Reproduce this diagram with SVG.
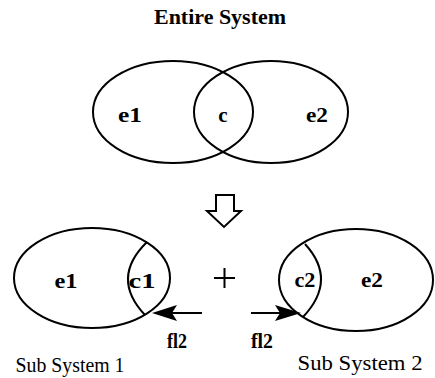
<svg xmlns="http://www.w3.org/2000/svg" width="435" height="378" viewBox="0 0 435 378">
<style>
.l{fill:none;stroke:#000;stroke-width:2}
.t{font-family:"Liberation Serif","Times New Roman",serif;fill:#000;font-size:21px}
.b{font-weight:bold}
.h{fill:#000;stroke:none}
</style>
<rect width="435" height="378" fill="#fff"/>
<text class="t b" x="220" y="24" text-anchor="middle" textLength="132" lengthAdjust="spacingAndGlyphs" font-size="19">Entire System</text>
<g id="entire">
<ellipse class="l" cx="173" cy="112" rx="80" ry="51"/>
<ellipse class="l" cx="271" cy="112" rx="77" ry="51"/>
<text class="t b" x="130" y="122" text-anchor="middle" textLength="24" lengthAdjust="spacingAndGlyphs">e1</text>
<text class="t b" x="223" y="122" text-anchor="middle">c</text>
<text class="t b" x="317" y="122" text-anchor="middle" textLength="22" lengthAdjust="spacingAndGlyphs">e2</text>
</g>
<g id="down-arrow">
<path class="l" d="M216,195 H234 V211 H241 L224,227 L207,211 H216 Z" stroke-width="1.6" stroke-linejoin="miter"/>
</g>
<g id="sub1">
<ellipse class="l" cx="92" cy="278" rx="78" ry="50"/>
<path class="l" d="M147,242 Q110,278 145,315"/>
<text class="t b" x="66" y="288" text-anchor="middle" textLength="23" lengthAdjust="spacingAndGlyphs">e1</text>
<text class="t b" x="142" y="288" text-anchor="middle" textLength="27" lengthAdjust="spacingAndGlyphs">c1</text>
<text class="t" x="70" y="372" text-anchor="middle" textLength="109" lengthAdjust="spacingAndGlyphs" font-size="20">Sub System 1</text>
</g>
<g id="plus">
<path class="l" d="M214,278 H235 M224.5,268 V288" stroke-width="1.6"/>
</g>
<g id="sub2">
<ellipse class="l" cx="356" cy="280" rx="77" ry="51"/>
<path class="l" d="M305,244 Q338,280 303,317"/>
<text class="t b" x="305" y="287" text-anchor="middle" textLength="21" lengthAdjust="spacingAndGlyphs">c2</text>
<text class="t b" x="372" y="287" text-anchor="middle" textLength="22" lengthAdjust="spacingAndGlyphs">e2</text>
<text class="t" x="360" y="370" text-anchor="middle" textLength="125" lengthAdjust="spacingAndGlyphs" font-size="20">Sub System 2</text>
</g>
<g id="connectors">
<line class="l" x1="202" y1="313" x2="170" y2="313" stroke-width="3"/>
<path class="h" d="M152,313 L177,305 L172,313 L177,321 Z"/>
<line class="l" x1="251" y1="313" x2="282" y2="313" stroke-width="3"/>
<path class="h" d="M301,313 L275,305 L280,313 L275,321 Z"/>
<text class="t b" x="177" y="348" text-anchor="middle" textLength="20" lengthAdjust="spacingAndGlyphs">fl2</text>
<text class="t b" x="262" y="348" text-anchor="middle" textLength="22" lengthAdjust="spacingAndGlyphs">fl2</text>
</g>
</svg>
